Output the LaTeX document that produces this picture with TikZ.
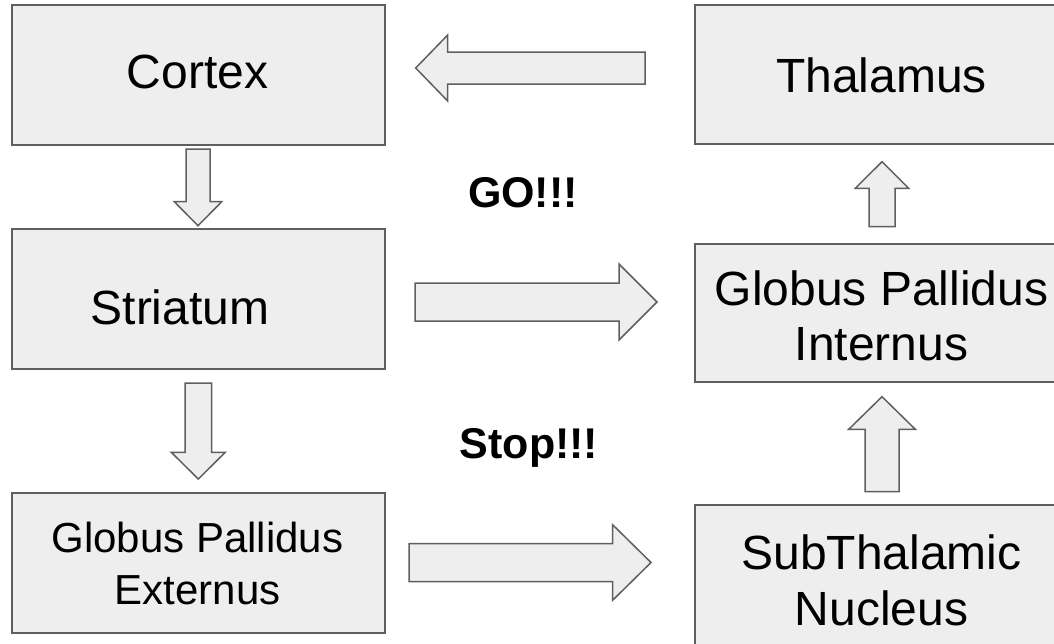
\documentclass[tikz,border=0pt]{standalone}
\usepackage{fontspec}
\setmainfont{Liberation Sans}
\usetikzlibrary{calc}
\definecolor{boxfill}{HTML}{EEEEEE}
\definecolor{boxline}{HTML}{5F5F5F}
\tikzset{
  box/.style={draw=boxline, fill=boxfill, line width=1.5pt, minimum width=373pt, minimum height=140pt, inner sep=0pt, outer sep=0pt},
  big/.style={font=\fontsize{48}{55}\selectfont, anchor=base, inner sep=0pt},
  mid/.style={font=\fontsize{42}{48}\selectfont, anchor=base, inner sep=0pt},
  shout/.style={font=\fontsize{43}{50}\selectfont\bfseries, anchor=base, inner sep=0pt},
  blockarrow/.style={draw=boxline, fill=boxfill, line width=1.5pt, line join=miter}
}
% #1 tail, #2 tip, #3 shaft half width, #4 head half width, #5 head length
\newcommand\barrow[5]{%
  \path[blockarrow] let \p1=(#1), \p2=(#2),
    \n1={veclen(\x2-\x1,\y2-\y1)}, \n2={(\x2-\x1)/\n1}, \n3={(\y2-\y1)/\n1} in
    ({\x1-(\n3)*#3pt},{\y1+(\n2)*#3pt})
    -- ({\x2-(\n2)*#5pt-(\n3)*#3pt},{\y2-(\n3)*#5pt+(\n2)*#3pt})
    -- ({\x2-(\n2)*#5pt-(\n3)*#4pt},{\y2-(\n3)*#5pt+(\n2)*#4pt})
    -- (\p2)
    -- ({\x2-(\n2)*#5pt+(\n3)*#4pt},{\y2-(\n3)*#5pt-(\n2)*#4pt})
    -- ({\x2-(\n2)*#5pt+(\n3)*#3pt},{\y2-(\n3)*#5pt-(\n2)*#3pt})
    -- ({\x1+(\n3)*#3pt},{\y1-(\n2)*#3pt}) -- cycle;}
\begin{document}
\begin{tikzpicture}[x=1pt,y=-1pt]
\useasboundingbox (0,0) rectangle (1054,643);
\fill[white] (0,0) rectangle (1054,643);
\clip (0,0) rectangle (1054,643);

% boxes
\node[box] (cortex) at (198.5,75) {};
\node[box, minimum height=139pt] (thalamus) at (881.5,74.5) {};
\node[box] (striatum) at (198.5,299) {};
\node[box, minimum height=138pt] (gpi) at (881.5,313) {};
\node[box] (gpe) at (198.5,563) {};
\node[box] (stn) at (881.5,575) {};

% texts
\node[big] (cortextext) at ($(cortex.center)+(-1,13)$) {Cortex};
\node[big] (thalamustext) at ($(thalamus.center)+(0,17.5)$) {Thalamus};
\node[big] (striatumtext) at ($(striatum.center)+(-18.5,25)$) {Striatum};
\node[big] (gpitexta) at ($(gpi.center)+(0,-8)$) {Globus Pallidus};
\node[big] (gpitextb) at ($(gpi.center)+(0,47)$) {Internus};
\node[mid] (gpetexta) at ($(gpe.center)+(-1,-11)$) {Globus Pallidus};
\node[mid] (gpetextb) at ($(gpe.center)+(-1,41)$) {Externus};
\node[big] (stntexta) at ($(stn.center)+(0,-6)$) {SubThalamic};
\node[big] (stntextb) at ($(stn.center)+(0,50)$) {Nucleus};
\node[shout] (go) at (523,207) {GO!!!};
\node[shout] (stop) at (529,458) {Stop!!!};

% connector end points
\coordinate (a1s) at ($(thalamus.west)+(-50,-6.5)$);
\coordinate (a1e) at ($(cortex.east)+(30.7,-7)$);
\coordinate (a2s) at ($(cortex.south)+(-0.5,4)$);
\coordinate (a2e) at ($(striatum.north)+(-0.5,-3.3)$);
\coordinate (a3s) at ($(striatum.east)+(30,3)$);
\coordinate (a3e) at ($(gpi.west)+(-38,-11)$);
\coordinate (a4s) at ($(striatum.south)+(-0.2,14)$);
\coordinate (a4e) at ($(gpe.north)+(-0.2,-14)$);
\coordinate (a5s) at ($(gpe.east)+(24,-0.5)$);
\coordinate (a5e) at ($(stn.west)+(-44,-12.5)$);
\coordinate (a6s) at ($(gpi.north)+(0.5,-17.3)$);
\coordinate (a6e) at ($(thalamus.south)+(0.5,17.7)$);
\coordinate (a7s) at ($(stn.north)+(0.5,-13.3)$);
\coordinate (a7e) at ($(gpi.south)+(0.5,14.7)$);

% block arrows
\barrow{a1s}{a1e}{16}{33}{32}
\barrow{a2s}{a2e}{12}{23.7}{24}
\barrow{a3s}{a3e}{19}{38}{38}
\barrow{a4s}{a4e}{13.3}{27}{26.7}
\barrow{a5s}{a5e}{19}{37.7}{38.3}
\barrow{a6s}{a6e}{13}{26.7}{26.6}
\barrow{a7s}{a7e}{17}{33.3}{32.6}
\end{tikzpicture}
\end{document}
